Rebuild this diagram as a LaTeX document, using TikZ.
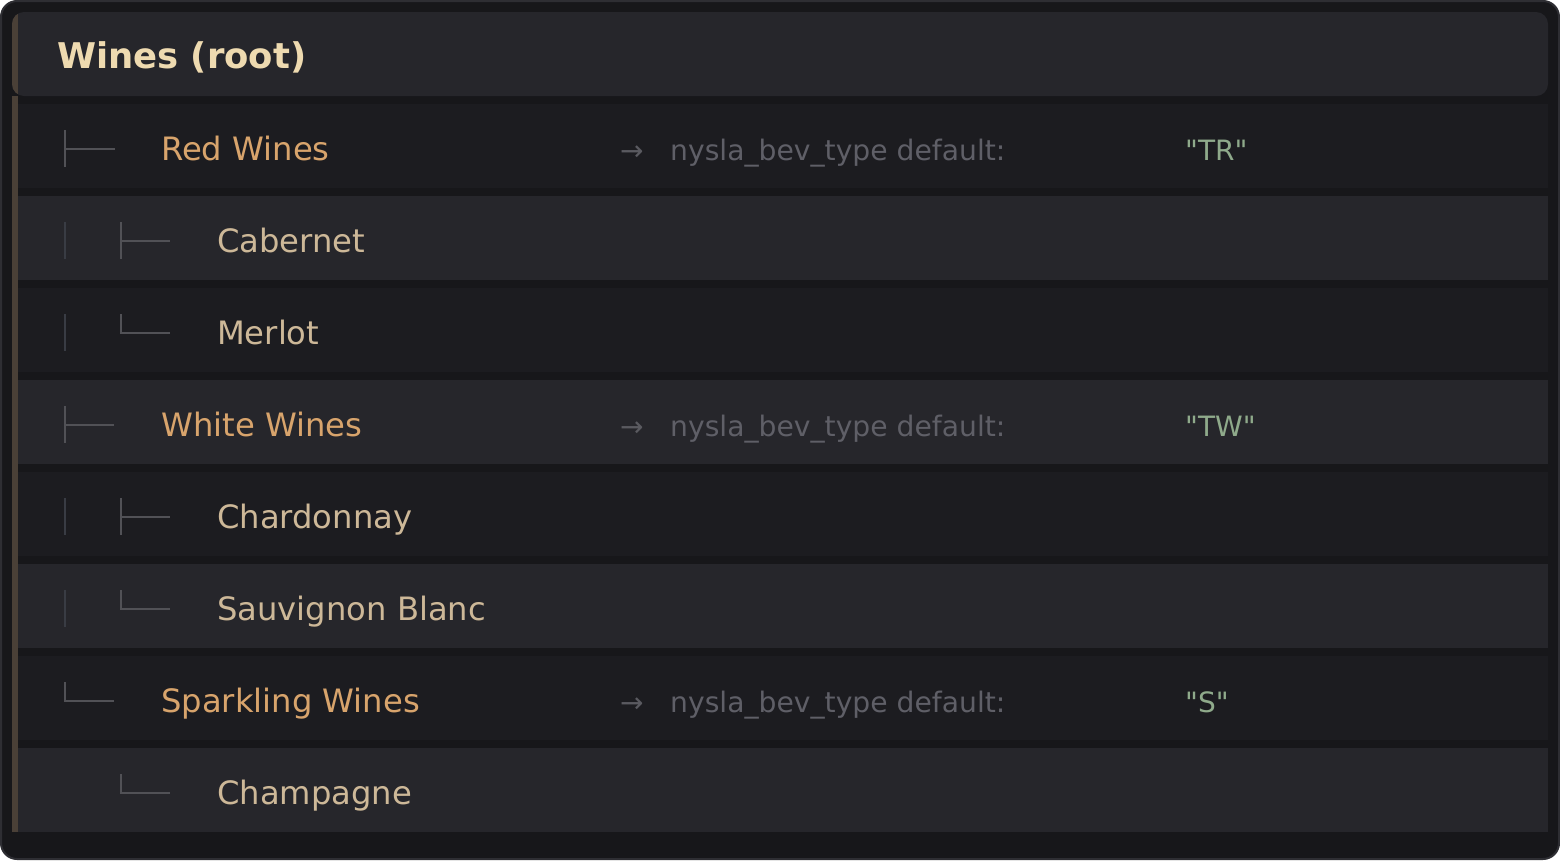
\documentclass[tikz,border=0pt]{standalone}
\usepackage{fontspec}
\setmainfont{DejaVu Sans}[Ligatures=TeXOff]
\definecolor{framebg}{HTML}{17171A}
\definecolor{framebd}{HTML}{2E2E33}
\definecolor{hdrbg}{HTML}{26262B}
\definecolor{rowdark}{HTML}{1C1C20}
\definecolor{rowlight}{HTML}{26262B}
\definecolor{accentc}{HTML}{4A4037}
\definecolor{hdrtext}{HTML}{EEDAB0}
\definecolor{lvlone}{HTML}{D8A46C}
\definecolor{lvltwo}{HTML}{CDB898}
\definecolor{detailc}{HTML}{5F5F67}
\definecolor{arrowc}{HTML}{5A5A60}
\definecolor{valc}{HTML}{8FAA8B}
\definecolor{treec}{HTML}{515156}
\definecolor{treedimc}{HTML}{393C44}
\begin{document}
\begin{tikzpicture}[x=1pt,y=-1pt,
  rowodd/.style={fill=rowdark},
  roweven/.style={fill=rowlight},
  hdrlabel/.style={anchor=base west,inner sep=0pt,text=hdrtext,font=\fontsize{35.4}{42}\selectfont\bfseries},
  lblone/.style={anchor=base west,inner sep=0pt,text=lvlone,font=\fontsize{32.2}{38}\selectfont},
  lbltwo/.style={anchor=base west,inner sep=0pt,text=lvltwo,font=\fontsize{32.2}{38}\selectfont},
  arrowlbl/.style={anchor=base west,inner sep=0pt,text=arrowc,font=\fontsize{28}{34}\selectfont},
  detail/.style={anchor=base west,inner sep=0pt,text=detailc,font=\fontsize{28.2}{34}\selectfont},
  vallbl/.style={anchor=base west,inner sep=0pt,text=valc,font=\fontsize{28}{34}\selectfont},
  treeline/.style={draw=treec,line width=2pt},
  treedim/.style={draw=treedimc,line width=2pt}
]
\useasboundingbox (0,0) rectangle (1560,860);
% frame
\draw[fill=framebg,draw=framebd,line width=2pt,rounded corners=16pt] (1,1) rectangle (1559,859);
% header
\path[fill=hdrbg,rounded corners=12pt] (12,12) rectangle (1548,96);
% rows
\path[rowodd]  (12,104) rectangle (1548,188);
\path[roweven] (12,196) rectangle (1548,280);
\path[rowodd]  (12,288) rectangle (1548,372);
\path[roweven] (12,380) rectangle (1548,464);
\path[rowodd]  (12,472) rectangle (1548,556);
\path[roweven] (12,564) rectangle (1548,648);
\path[rowodd]  (12,656) rectangle (1548,740);
\path[roweven] (12,748) rectangle (1548,832);
% accent strip
\begin{scope}
  \clip[rounded corners=12pt] (12,12) rectangle (1548,96);
  \fill[accentc] (12,12) rectangle (18,96);
\end{scope}
\fill[accentc] (12,96) rectangle (18,832);
% header text
\node[hdrlabel] (root) at (57,68) {Wines (root)};
% row labels
\node[lblone] (red) at (161,160) {Red Wines};
\node[lbltwo] (cab) at (217,252) {Cabernet};
\node[lbltwo] (mer) at (217,344) {Merlot};
\node[lblone] (white) at (161,436) {White Wines};
\node[lbltwo] (chard) at (217,528) {Chardonnay};
\node[lbltwo] (sauv) at (217,620) {Sauvignon Blanc};
\node[lblone] (spark) at (161,712) {Sparkling Wines};
\node[lbltwo] (champ) at (217,804) {Champagne};
% details
\node[arrowlbl] (a1) at (620,160) {→};
\node[detail] (d1) at (670,160) {nysla\_bev\_type default:};
\node[vallbl] (v1) at (1185,160) {"TR"};
\node[arrowlbl] (a2) at (620,436) {→};
\node[detail] (d2) at (670,436) {nysla\_bev\_type default:};
\node[vallbl] (v2) at (1185,436) {"TW"};
\node[arrowlbl] (a3) at (620,712) {→};
\node[detail] (d3) at (670,712) {nysla\_bev\_type default:};
\node[vallbl] (v3) at (1185,712) {"S"};
% tree glyphs
% row 1
\draw[treeline] (65,130) -- (65,167);
\draw[treeline] (65,148.5) -- (115,148.5);
% row 2
\draw[treedim] (65,222) -- (65,259);
\draw[treeline] (121,222) -- (121,259);
\draw[treeline] (121,240.5) -- (170,240.5);
% row 3
\draw[treedim] (65,314) -- (65,351);
\draw[treeline] (121,314) -- (121,332.5) -- (170,332.5);
% row 4
\draw[treeline] (65,406) -- (65,443);
\draw[treeline] (65,424.5) -- (114,424.5);
% row 5
\draw[treedim] (65,498) -- (65,535);
\draw[treeline] (121,498) -- (121,535);
\draw[treeline] (121,516.5) -- (170,516.5);
% row 6
\draw[treedim] (65,590) -- (65,627);
\draw[treeline] (121,590) -- (121,608.5) -- (170,608.5);
% row 7
\draw[treeline] (65,682) -- (65,700.5) -- (114,700.5);
% row 8
\draw[treeline] (121,774) -- (121,792.5) -- (170,792.5);
\end{tikzpicture}
\end{document}
